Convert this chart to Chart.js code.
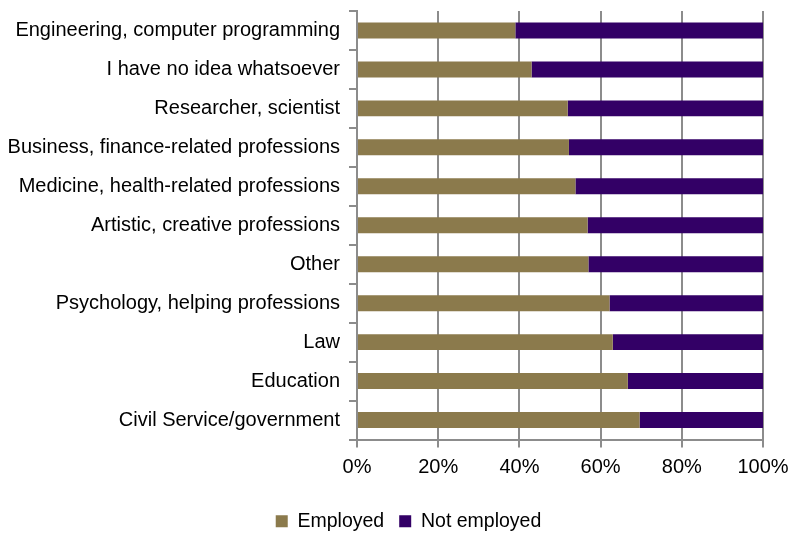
<!DOCTYPE html>
<html>
<head>
<meta charset="utf-8">
<title>Employment by intended profession</title>
<script src="https://cdn.jsdelivr.net/npm/chart.js@4.4.1/dist/chart.umd.min.js"></script>
<style>
    html, body { margin: 0; padding: 0; background: #fff; }
    #wrap { width: 797px; height: 535px; position: relative; }
</style>
</head>
<body>
<div id="wrap"><canvas id="jobChart"></canvas></div>
<script>
// Categories, top to bottom
const professions = [
    "Engineering, computer programming",
    "I have no idea whatsoever",
    "Researcher, scientist",
    "Business, finance-related professions",
    "Medicine, health-related professions",
    "Artistic, creative professions",
    "Other",
    "Psychology, helping professions",
    "Law",
    "Education",
    "Civil Service/government"
];

// Share of respondents (%)
const employed    = [39.0, 43.0, 51.9, 52.2, 53.8, 56.8, 57.0, 62.2, 63.0, 66.7, 69.6];
const notEmployed = [61.0, 57.0, 48.1, 47.8, 46.2, 43.2, 43.0, 37.8, 37.0, 33.3, 30.4];

const xTicks = [0, 20, 40, 60, 80, 100];

const axisGray = "#8c8c8c";
const font = { family: "'Liberation Sans', Arial, sans-serif", size: 20 };

Chart.defaults.color = "#000";
Chart.defaults.font = font;

// nudge the legend under the middle of the plot and a bit lower
const legendShift = {
    id: "legendShift",
    afterLayout(chart) {
        const lg = chart.legend;
        if (!lg) return;
        lg.left += 27; lg.right += 27;
        lg.top += 6; lg.bottom += 6;
    }
};

new Chart(document.getElementById("jobChart").getContext("2d"), {
    type: "bar",
    data: {
        labels: professions,
        datasets: [{
            label: "Employed",
            data: employed,
            backgroundColor: "#8b7a4c",
            barPercentage: 0.41,
            categoryPercentage: 1
        }, {
            label: "Not employed",
            data: notEmployed,
            backgroundColor: "#330066",
            barPercentage: 0.41,
            categoryPercentage: 1
        }]
    },
    options: {
        indexAxis: "y",
        responsive: true,
        maintainAspectRatio: false,
        animation: false,
        layout: { padding: { top: 11, right: 34, bottom: 0, left: 0 } },
        scales: {
            x: {
                stacked: true,
                min: 0,
                max: 100,
                afterBuildTicks: (scale) => {
                    scale.ticks = xTicks.map(v => ({ value: v }));
                },
                afterFit: (scale) => { scale.height = 51; },
                ticks: {
                    callback: (v) => v + "%",
                    padding: 8,
                    font: font
                },
                grid: { color: axisGray, lineWidth: 2, tickLength: 8 },
                border: { color: axisGray, width: 2 }
            },
            y: {
                stacked: true,
                afterFit: (scale) => {
                    scale.width = 357;
                    scale.paddingTop = 0;
                    scale.paddingBottom = 0;
                },
                ticks: { padding: 9, font: font },
                grid: {
                    drawOnChartArea: false,
                    color: axisGray,
                    lineWidth: 2,
                    tickLength: 8
                },
                border: { color: axisGray, width: 2 }
            }
        },
        plugins: {
            legend: {
                position: "bottom",
                labels: {
                    boxWidth: 12,
                    boxHeight: 12,
                    padding: 15,
                    font: { family: font.family, size: 19.5 }
                }
            },
            tooltip: { enabled: false }
        }
    },
    plugins: [legendShift]
});
</script>
</body>
</html>
